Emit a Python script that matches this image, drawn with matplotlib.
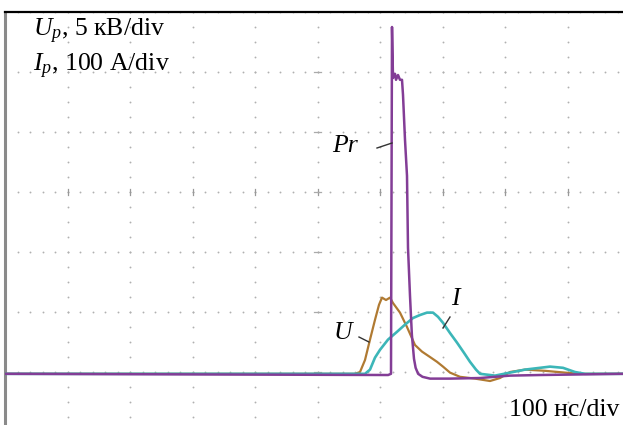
import numpy as np
import matplotlib.pyplot as plt

plt.rcParams['font.family'] = ['Liberation Serif', 'DejaVu Serif']
plt.rcParams['mathtext.fontset'] = 'custom'
plt.rcParams['mathtext.rm'] = 'Liberation Serif'
plt.rcParams['mathtext.it'] = 'Liberation Serif:italic'

# time axis in ns (100 ns/div), signals in screen divisions above ground
t_pr = [0, 613, 617.6, 619.2, 620.8, 624, 625.6, 628.8, 632, 635.2, 636.8,
        640, 643.2, 644.8, 648, 651, 654.4, 657, 661, 668, 680, 712, 760,
        808, 856, 988.8]
pr = [0, -0.02, 0, 5.78, 4.93, 5.0, 4.9, 4.98, 4.9, 4.9, 4.65,
      3.9, 3.3, 2.1, 1.3, 0.65, 0.25, 0.1, 0.0, -0.05, -0.08, -0.08, -0.07,
      -0.03, -0.02, 0]

t_u = [0, 560, 568, 576, 584, 592, 598.4, 603.2, 609.6, 616, 620.8, 632,
       643.2, 656, 667.2, 680, 691.2, 700.8, 712, 728, 752, 776, 792, 808,
       832, 864, 896, 920, 988.8]
u = [0, 0, 0.03, 0.23, 0.57, 0.9, 1.15, 1.27, 1.23, 1.27, 1.18, 1.02,
     0.78, 0.48, 0.37, 0.28, 0.2, 0.12, 0.02, -0.05, -0.08, -0.12, -0.07, 0.03,
     0.07, 0.05, 0.02, 0, 0]

t_i = [0, 576, 584, 592, 600, 612.8, 627.2, 640, 652.8, 664, 675.2, 684.8,
       692.8, 700.8, 712, 723.2, 734.4, 744, 753.6, 760, 784, 808, 832, 856,
       872, 892.8, 912, 928, 988.8]
i_cur = [0, 0, 0.07, 0.27, 0.4, 0.57, 0.7, 0.82, 0.93, 0.98, 1.02, 1.02,
         0.95, 0.85, 0.68, 0.52, 0.35, 0.2, 0.07, 0, -0.03, 0.02, 0.07, 0.1,
         0.12, 0.1, 0.03, 0, 0]

GND = 1.97  # ground level of the traces, in divisions from the bottom


def px(x, y):
    # screen pixel -> data coords
    return (x - 5) * 1.6, (492 - y) / 60.0


fig = plt.figure(figsize=(6.23, 4.25), dpi=100)
ax = fig.add_axes([5 / 623, 0, 618 / 623, 413 / 425])
ax.set_xlim(0, 988.8)
ax.set_ylim(1.117, 8)
ax.set_xticks([])
ax.set_yticks([])
for s in ['right', 'bottom']:
    ax.spines[s].set_visible(False)
ax.spines['top'].set_color('black')
ax.spines['top'].set_linewidth(1.6)
ax.spines['left'].set_color('#8a8a8a')
ax.spines['left'].set_linewidth(2.2)

# dotted graticule: 5 minor steps along rows, 4 along columns
dot = dict(s=1.8, color='#b0b0b0', lw=0, zorder=1)
xs_minor = np.arange(0, 1000.1, 20)
ys_minor = np.arange(0, 8.01, 0.25)
for yr in range(1, 9):
    ax.scatter(xs_minor, np.full_like(xs_minor, yr), **dot)
for xc in range(100, 1000, 100):
    ax.scatter(np.full_like(ys_minor, xc), ys_minor, **dot)
# centre cross marks
for xc in range(100, 1000, 100):
    ax.plot([xc, xc], [4.95, 5.05], color='#999999', lw=0.9, zorder=1)
for yr in range(1, 8):
    ax.plot([495, 505], [yr, yr], color='#aaaaaa', lw=0.9, zorder=1)

ax.plot(t_u, np.array(u) + GND, color='#b07a32', lw=1.6, zorder=3)
ax.plot(t_i, np.array(i_cur) + GND, color='#3cb6b8', lw=1.9, zorder=3)
ax.plot(t_pr, np.array(pr) + GND, color='#833d96', lw=1.8, zorder=4)

# trace labels with leader lines
lab = dict(fontsize=18.5, style='italic', color='black', zorder=5)
ax.text(*px(332, 152), 'Pr', ha='left', va='baseline', **lab)
ax.plot(*zip(px(377, 148), px(392, 143)), color='#333333', lw=1.0, zorder=5)
ax.text(*px(334, 339), 'U', ha='left', va='baseline', **lab)
ax.plot(*zip(px(359, 337), px(369, 342)), color='#333333', lw=1.0, zorder=5)
ax.text(*px(451, 305), 'I', ha='left', va='baseline', **lab)
ax.plot(*zip(px(443, 328), px(450, 317)), color='#333333', lw=1.0, zorder=5)

fig.text(33 / 623, 1 - 36 / 425, r'$U_p$, 5 кВ/div', fontsize=18.5,
         ha='left', va='baseline')
fig.text(33 / 623, 1 - 71 / 425, r'$I_p$, 100 A/div', fontsize=18.5,
         ha='left', va='baseline')
fig.text(619 / 623, 1 - 416 / 425, '100 нс/div', fontsize=18.5,
         ha='right', va='baseline')

fig.savefig('out.png', dpi=100, facecolor='white')
